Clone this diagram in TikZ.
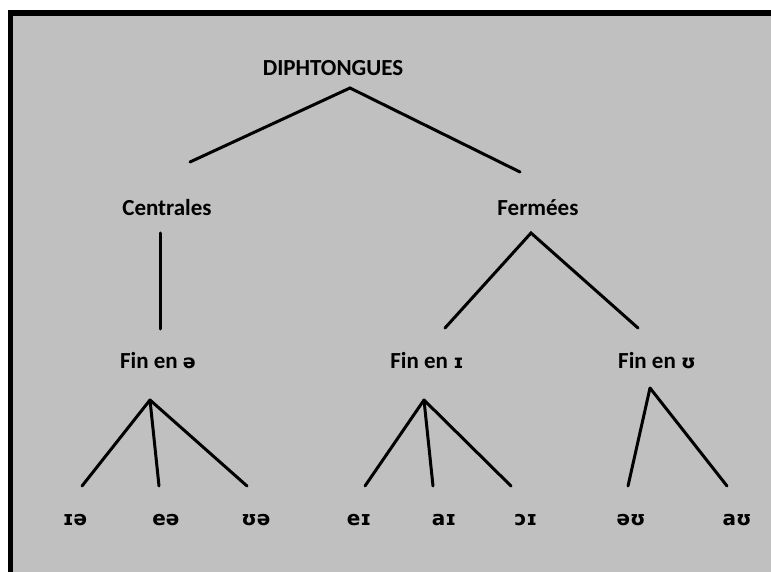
\documentclass[tikz,border=0pt]{standalone}
\usepackage{fontspec}
\setmainfont{Carlito}
\newfontfamily\ipafont{DejaVu Sans}
\newcommand{\ip}[1]{{\ipafont\fontsize{19}{22}\selectfont #1}}
\definecolor{bggray}{RGB}{192,192,192}
\tikzset{
  lbl/.style={font=\bfseries\fontsize{23}{25}\selectfont, inner sep=0pt, anchor=center},
  ipa/.style={font=\ipafont\bfseries\fontsize{20}{23}\selectfont, inner sep=0pt, anchor=center},
  branch/.style={line width=3pt, black, line cap=round}
}
\begin{document}
\begin{tikzpicture}[x=1pt,y=-1pt]
\useasboundingbox (0,0) rectangle (771,572);
\fill[white] (0,0) rectangle (771,572);
\fill[bggray] (8,10) rectangle (771,572);
\fill[black] (8,10) rectangle (771,16);
\fill[black] (8,10) rectangle (13,572);

% labels
\node[lbl] (root) at (333,68) {DIPHTONGUES};
\node[lbl] (cen) at (167,208) {Centrales};
\node[lbl] (fer) at (538,208) {Fermées};
\node[lbl] (fa) at (158,361) {Fin en \ip{ə}};
\node[lbl] (fi) at (427,361) {Fin en \ip{ɪ}};
\node[lbl] (fu) at (657,361) {Fin en \ip{ʊ}};
\node[ipa] (l1) at (75,520) {ɪə};
\node[ipa] (l2) at (166,520) {eə};
\node[ipa] (l3) at (256,520) {ʊə};
\node[ipa] (l4) at (359,520) {eɪ};
\node[ipa] (l5) at (444,520) {aɪ};
\node[ipa] (l6) at (526,520) {ɔɪ};
\node[ipa] (l7) at (631,520) {əʊ};
\node[ipa] (l8) at (737,520) {aʊ};

% connector end points
\coordinate (rootA) at (350,88);
\coordinate (cenT) at (190,162);
\coordinate (ferT) at (520,172);
\coordinate (cenB) at (160,233);
\coordinate (faT) at (160,329);
\coordinate (ferB) at (531,233);
\coordinate (fiT) at (445,328);
\coordinate (fuT) at (638,328);
\coordinate (faA) at (150,400);
\coordinate (fiA) at (424,400);
\coordinate (fuA) at (650,388);
\coordinate (e1) at (82,486);
\coordinate (e2) at (159,486);
\coordinate (e3) at (247,486);
\coordinate (e4) at (365,486);
\coordinate (e5) at (433,486);
\coordinate (e6) at (511,486);
\coordinate (e7) at (628,486);
\coordinate (e8) at (727,486);

\draw[branch] (cenT) -- (rootA) -- (ferT);
\draw[branch] (cenB) -- (faT);
\draw[branch] (fiT) -- (ferB) -- (fuT);
\draw[branch] (faA) -- (e1);
\draw[branch] (faA) -- (e2);
\draw[branch] (faA) -- (e3);
\draw[branch] (fiA) -- (e4);
\draw[branch] (fiA) -- (e5);
\draw[branch] (fiA) -- (e6);
\draw[branch] (fuA) -- (e7);
\draw[branch] (fuA) -- (e8);
\end{tikzpicture}
\end{document}
